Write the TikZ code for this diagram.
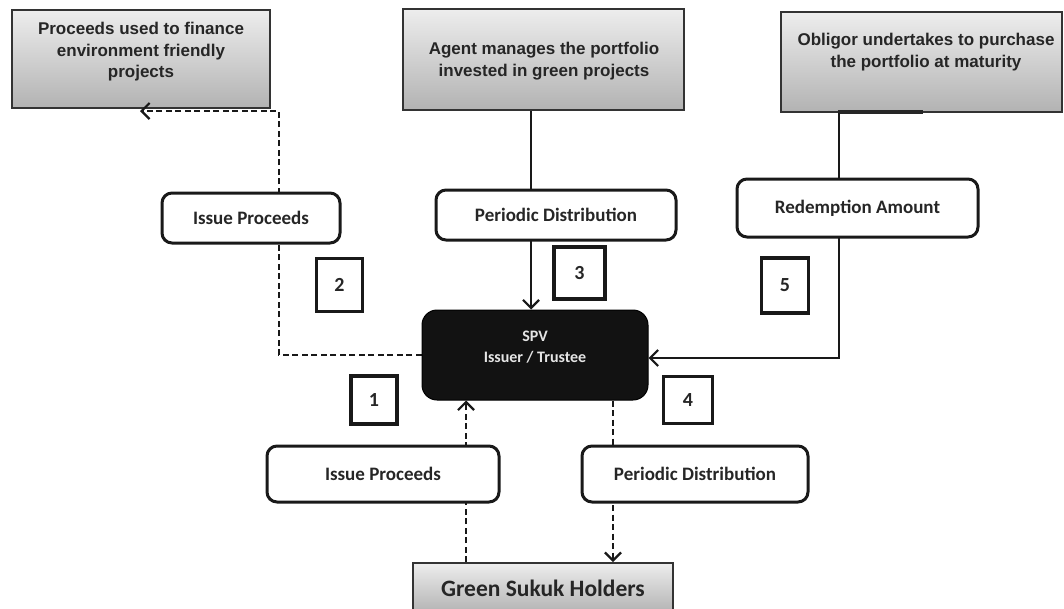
\documentclass[tikz,border=0pt]{standalone}
\usepackage{fontspec}
\setmainfont{Carlito}
\newfontfamily\arialfont{Liberation Sans}
\usetikzlibrary{arrows.meta,backgrounds}
\tikzset{
 topbox/.style={draw=black!80, line width=2pt, top color=black!7, bottom color=black!30, inner sep=0pt},
 toptext/.style={font=\arialfont\bfseries\fontsize{17}{21.5}\selectfont, text=black!85, align=center, inner sep=0pt},
 roundbox/.style={draw=black!90, line width=3pt, rounded corners=10pt, fill=white, inner sep=0pt, font=\bfseries\fontsize{19}{22}\selectfont, text=black!85},
 numbox/.style={draw=black!90, line width=3.5pt, fill=white, inner sep=0pt, font=\bfseries\fontsize{20}{24}\selectfont, text=black!85},
 conn/.style={line width=2.5pt, draw=black!90},
 dconn/.style={conn, dash pattern=on 6pt off 3.5pt},
 arrowend/.style={-{Straight Barb[length=8pt,width=16pt,line width=2.2pt]}}
}
\begin{document}
\begin{tikzpicture}[x=1pt,y=-1pt]
\useasboundingbox (0,0) rectangle (1064,608);

% rounded label boxes
\node[roundbox, minimum width=178pt, minimum height=50pt] (ip1) at (251,218) {Issue Proceeds};
\node[roundbox, minimum width=240pt, minimum height=50pt] (pd1) at (556,215) {Periodic Distribution};
\node[roundbox, minimum width=241pt, minimum height=58pt] (ra) at (857.5,208) {Redemption Amount};
\node[roundbox, minimum width=232pt, minimum height=56pt] (ip2) at (383,474) {Issue Proceeds};
\node[roundbox, minimum width=226pt, minimum height=56pt] (pd2) at (695,474) {Periodic Distribution};

% SPV
\node[draw=black, line width=1pt, fill=black!93, rounded corners=15pt, minimum width=226pt, minimum height=90pt, inner sep=0pt] (spv) at (535,355) {};
\node[font=\bfseries\fontsize{16}{21}\selectfont, text=black!10, align=center, inner sep=0pt] (spvt) at (535,347) {SPV\\Issuer / Trustee};

% Green Sukuk Holders
\begin{scope}
\clip (0,0) rectangle (1064,608);
\node[topbox, minimum width=260pt, minimum height=50pt, font=\bfseries\fontsize{23.5}{28}\selectfont, text=black!85] (gsh) at (543,588) {Green Sukuk Holders};
\end{scope}

% number boxes
\node[numbox, minimum width=46pt, minimum height=53pt] (n2) at (339.5,285) {2};
\node[numbox, minimum width=51pt, minimum height=52pt] (n3) at (579.5,273) {3};
\node[numbox, minimum width=47pt, minimum height=55pt] (n5) at (785,285.5) {5};
\node[numbox, minimum width=46pt, minimum height=48pt] (n1) at (374,400) {1};
\node[numbox, minimum width=49pt, minimum height=47pt] (n4) at (688,400) {4};

% helper coordinates
\coordinate (xl) at (279,0);
\coordinate (xm) at (531,0);
\coordinate (xr) at (839,0);
\coordinate (xa) at (466,0);
\coordinate (xb) at (613,0);

\begin{scope}[on background layer]
% top boxes
\node[topbox, minimum width=258pt, minimum height=98pt] (tl) at (141,59) {};
\node[toptext] (tlt) at (141,52) {Proceeds used to finance\\environment friendly\\projects};
\node[topbox, minimum width=281pt, minimum height=101pt] (tm) at (543.5,59.5) {};
\node[toptext] (tmt) at (544,61) {Agent manages the portfolio\\invested in green projects};
\node[topbox, minimum width=281pt, minimum height=100pt] (tr) at (921.5,62) {};
\node[toptext] (trt) at (926,52) {Obligor undertakes to purchase\\the portfolio at maturity};
\draw[line width=3.5pt, draw=black!85] (838,112) -- (923,112);

% 2: issue proceeds to projects
\coordinate (tlin) at ([xshift=-1pt,yshift=-2pt]tl.south);
\draw[dconn, arrowend] (spv.west) -| (xl |- tlin) -- (tlin);
% 3: periodic distribution from agent
\draw[conn, arrowend] (tm.south -| xm) -- (spv.north -| xm);
% 5: redemption amount
\draw[conn, arrowend] (tr.south -| xr) -- ([yshift=-3pt]xr |- spv.east) -- ([yshift=-3pt]spv.east);
% 1: issue proceeds from holders
\draw[dconn, arrowend] (gsh.north -| xa) -- (spv.south -| xa);
% 4: periodic distribution to holders
\draw[dconn, arrowend] (spv.south -| xb) -- (gsh.north -| xb);
\end{scope}
\end{tikzpicture}
\end{document}
